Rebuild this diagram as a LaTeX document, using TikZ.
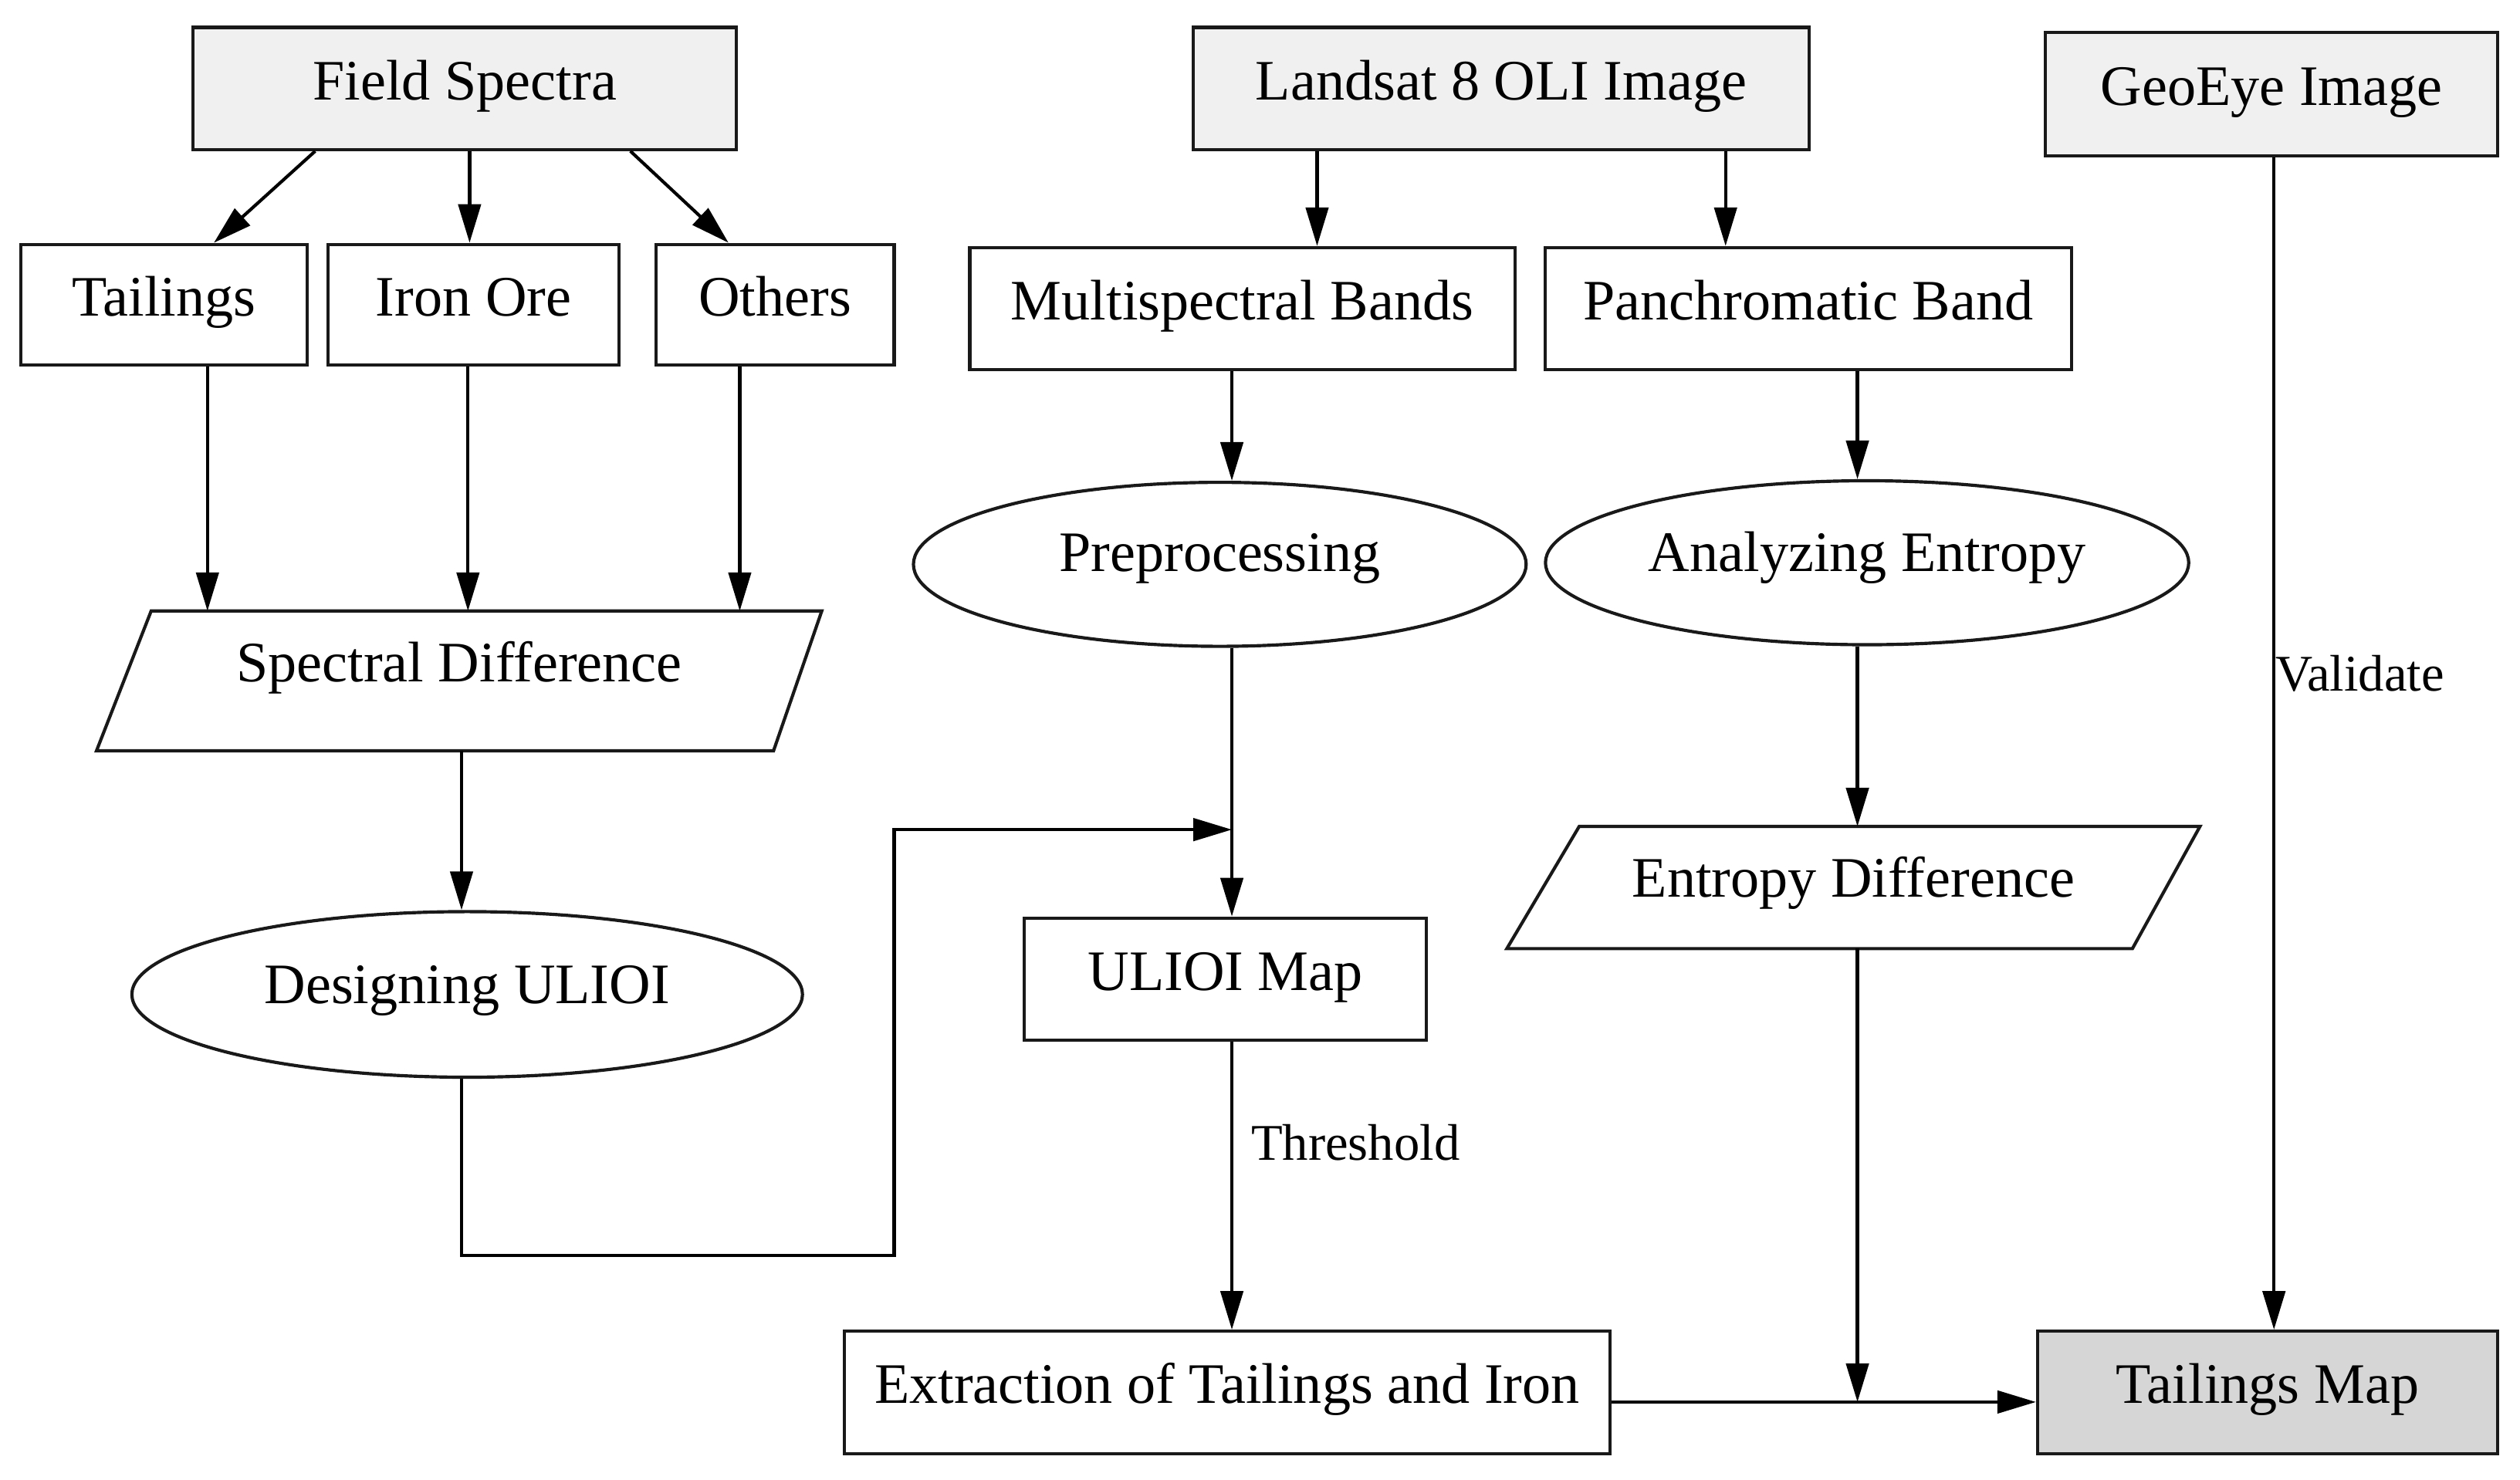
\documentclass[tikz,border=0pt]{standalone}
\usepackage{fontspec}
\setmainfont{Liberation Serif}
\usetikzlibrary{arrows.meta,shapes.geometric,calc}
\begin{document}
\begin{tikzpicture}[x=1pt,y=-1pt,
  font=\fontsize{35.6}{40}\selectfont,
  base/.style={draw=black!90, line width=2pt, inner sep=0pt, text height=30pt, text depth=16pt, minimum height=76pt},
  box/.style={base, rectangle, minimum width=#1},
  gbox/.style={box=#1, fill=black!6},
  oval/.style 2 args={base, ellipse, minimum width=#1, minimum height=#2},
  pnode/.style 2 args={base, draw=none, rectangle, minimum width=#1, minimum height=#2},
  pline/.style={draw=black!90, line width=2pt},
  arr/.style={-{Triangle[length=24pt,width=14pt]}, line width=2pt, black},
  lab/.style={font=\fontsize{32}{36}\selectfont, anchor=west, inner sep=0pt}
]
\useasboundingbox (0,0) rectangle (1567,920.5);

% top row
\node[gbox=338pt] (fs) at (289,55) {Field Spectra};
\node[gbox=383pt] (ls) at (933.5,55) {Landsat 8 OLI Image};
\node[gbox=281pt, minimum height=77pt] (ge) at (1412.5,58.5) {GeoEye Image};

% second row
\node[box=178pt, minimum height=75pt] (tail) at (102,189.5) {Tailings};
\node[box=181pt, minimum height=75pt] (iron) at (294.5,189.5) {Iron Ore};
\node[box=148pt, minimum height=75pt] (oth) at (482,189.5) {Others};
\node[box=339pt] (ms) at (772.5,192) {Multispectral Bands};
\node[box=327pt] (pan) at (1124.5,192) {Panchromatic Band};

% ellipses
\node[oval={381pt}{102pt}, text depth=21pt] (pre) at (758.5,351) {Preprocessing};
\node[oval={400pt}{102pt}, text depth=19pt] (ana) at (1161,350) {Analyzing Entropy};
\node[oval={417pt}{103pt}, text depth=19pt] (des) at (290.5,618.5) {Designing ULIOI};

% parallelograms
\node[pnode={449pt}{85pt}, text depth=29pt] (spec) at (285.5,423.5) {Spectral Difference};
\draw[pline] ($(spec.north west)+(34,0)$) -- (spec.north east) -- ($(spec.south east)+(-30,0)$) -- (spec.south west) -- cycle;
\node[pnode={429pt}{74pt}, text depth=18pt] (ent) at (1152.5,552) {Entropy Difference};
\draw[pline] ($(ent.north west)+(45,0)$) -- (ent.north east) -- ($(ent.south east)+(-42,0)$) -- (ent.south west) -- cycle;

% lower boxes
\node[box=250pt] (ul) at (762,609) {ULIOI Map};
\node[box=476pt] (ext) at (763,866) {Extraction of Tailings and Iron};
\node[box=286pt, fill=black!16] (tm) at (1410,866) {Tailings Map};

% connectors
\draw[arr] ([xshift=-93pt]fs.south) -- ([xshift=31pt]tail.north);
\draw[arr] ([xshift=3pt]fs.south) -- ([xshift=3pt]fs.south |- iron.north);
\draw[arr] ([xshift=103pt]fs.south) -- ([xshift=-29pt]oth.north);

\draw[arr] ([xshift=27pt]tail.south) -- ([xshift=27pt]tail.south |- spec.north);
\draw[arr] ([xshift=-3.5pt]iron.south) -- ([xshift=-3.5pt]iron.south |- spec.north);
\draw[arr] ([xshift=-22pt]oth.south) -- ([xshift=-22pt]oth.south |- spec.north);
\draw[arr] ([xshift=1.5pt]spec.south) -- ([xshift=1.5pt]spec.south |- des.north);

\draw[arr] ([xshift=-114.5pt]ls.south) -- ([xshift=-114.5pt]ls.south |- ms.north);
\draw[arr] ([xshift=139.5pt]ls.south) -- ([xshift=139.5pt]ls.south |- pan.north);
\draw[arr] ([xshift=-6.5pt]ms.south) -- ([xshift=-6.5pt]ms.south |- pre.north);
\draw[arr] ([xshift=30.5pt]pan.south) -- ([xshift=30.5pt]pan.south |- ana.north);

\draw[arr] ([xshift=7.5pt]pre.south) -- ([xshift=7.5pt]pre.south |- ul.north);
\coordinate (bend) at (556,781);
\coordinate (join) at (766,516);
\draw[arr] ([xshift=-3.5pt]des.south) |- (bend) |- (join);

\draw[arr] ([xshift=4pt]ul.south) -- node[lab, pos=0.35, xshift=11pt] (thr) {Threshold} ([xshift=4pt]ul.south |- ext.north);

\draw[arr] ([xshift=-6pt]ana.south) -- ([xshift=-6pt]ana.south |- ent.north);

\coordinate (hl) at ([yshift=-6pt]ext.east);
\draw[arr] (hl) -- (hl -| tm.west);
\draw[arr] ([xshift=2.5pt]ent.south) -- ([xshift=2.5pt]ent.south |- hl);

\draw[arr] ([xshift=1.5pt]ge.south) -- node[lab, pos=0.44, xshift=0pt] (val) {Validate} ([xshift=1.5pt]ge.south |- tm.north);
\end{tikzpicture}
\end{document}
